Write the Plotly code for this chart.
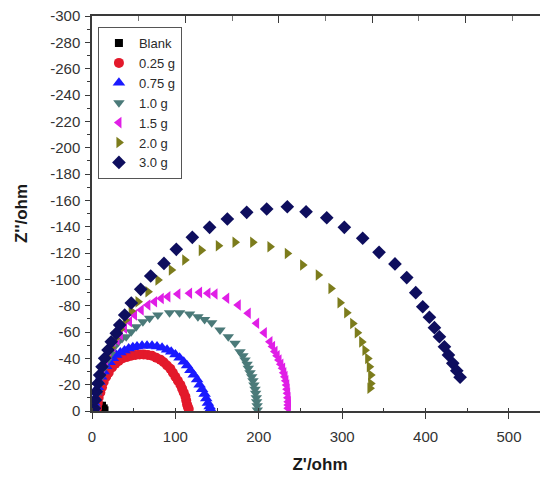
import plotly.graph_objects as go

# ---- data (Z' in ohm, Z'' in ohm) ----
blank_x = [4, 6, 9, 12, 14, 15]
blank_y = [-1, -3, -4, -4, -2, -0.5]

g025_x = [6, 7, 8, 10, 12, 14, 17, 20, 24, 28, 32, 37, 42, 47, 52, 57, 62, 67, 72, 77,
          82, 86, 90, 94, 97, 100, 103, 106, 108, 110, 112, 113, 114, 115, 116]
g025_y = [-2, -6, -10, -14, -18, -22, -26, -29, -33, -36, -38, -40, -41, -42, -42.5, -43,
          -43, -42.5, -42, -40.5, -39, -37, -34.5, -32, -29, -26, -23, -20, -17, -14,
          -11, -8, -5, -3, -1.5]

g075_x = [2, 3, 4, 5, 7, 9, 11, 14, 17, 21, 25, 29, 34, 39, 44, 49, 54, 60, 66, 72, 78,
          84, 90, 95, 100, 105, 110, 114, 118, 122, 126, 129, 132, 135, 137, 139, 141, 142]
g075_y = [-2, -6, -10, -14, -18, -22, -26, -30, -34, -37, -40, -42.5, -44.5, -46, -47.5,
          -48.5, -49, -49.5, -49.5, -49.5, -49, -48, -46.5, -45, -43, -40.5, -37.5, -34.5,
          -31, -27.5, -24, -20, -16.5, -13, -9.5, -6, -3.5, -1.5]

g10_x = [3, 4, 6, 8, 11, 14, 18, 22, 26, 31, 36, 41, 47, 53, 61, 69, 79, 93, 105, 117,
         127, 135, 143.5, 153.5, 163.4, 171.5, 177.5, 181, 183.5, 186, 187.4, 189.5, 191.5,
         193, 194.2, 195.5, 196.2, 197, 197.4, 198, 198.2]
g10_y = [-2, -8, -14, -20, -26, -32, -38, -43, -48, -52, -55, -56.4, -60.2, -64, -67.8,
         -70.4, -72.9, -74.6, -74.6, -73.7, -71.6, -69.5, -67, -61.5, -56.4, -51.4, -45,
         -42, -38.7, -35.5, -32.4, -29, -26, -23, -19.7, -16.5, -13.4, -10, -7.1, -4, -0.8]

g15_x = [3, 4, 6, 9, 12, 16, 20, 25, 30, 34, 39, 45, 51, 59, 67, 75, 83, 91, 103, 117,
         129, 139, 147.5, 161.5, 175.4, 187.4, 197.4, 206.6, 213.4, 216.5, 219.4, 222,
         224.2, 226.5, 228.6, 230, 231.4, 232.5, 233.5, 234, 234.6, 235, 235.4, 235.4, 235.4]
g15_y = [-2, -9, -16, -23, -30, -37, -43, -49, -54, -58, -62.8, -67.8, -72.9, -76.7, -80.5,
         -83, -85.5, -86.8, -88.8, -89.4, -90.1, -89.4, -88.8, -85.6, -80.5, -74.2, -66.6,
         -59.5, -52.6, -49, -45.1, -42, -38.7, -35.5, -32.4, -29, -26.1, -23, -19.7, -16.5,
         -13.4, -10, -7.1, -4.5, -2]

g20_x = [3, 4, 6, 8, 11, 14, 18, 23, 28, 34, 40, 47, 55.2, 67.1, 79.1, 95.1, 111.2, 131,
         151.5, 171.5, 192.7, 213.4, 234.2, 252.6, 271.3, 286.5, 297.4, 305.4, 312.6, 318.1,
         323.4, 327.3, 330.6, 332.5, 334.2, 334.2, 333.3]
g20_y = [-2, -7, -13, -20, -27, -34, -41, -48, -55, -62, -69, -76, -83, -90.6, -99.5, -107.1,
         -114.7, -122, -125.5, -128.1, -128.1, -124.8, -119.7, -110.9, -103.3, -93.1, -82.2,
         -74.6, -66.5, -59.4, -52.5, -46.2, -39.9, -33.6, -27.3, -20.9, -17.2]

g30_x = [3, 4, 5.2, 7.2, 9.2, 12, 15.2, 19.2, 23.1, 29.1, 33.2, 39.2, 47.1, 58.4, 70.4,
         86.3, 101.1, 120.3, 141, 162.3, 185.5, 209.5, 234.2, 256.7, 281.5, 302.6, 324.6,
         344.2, 363.3, 377.4, 388.2, 396.6, 404.6, 410.6, 416.6, 422.6, 427.4, 432.6, 437.4,
         441.4]
g30_y = [-2, -8.4, -14.7, -21, -27.3, -33.6, -40, -46.3, -52.6, -59, -65.3, -72.9, -82,
         -92.4, -102.5, -112.1, -122.8, -131.9, -139.5, -145.8, -150.9, -153.4, -155.1,
         -151.3, -146.8, -139.5, -131.2, -120.5, -111.7, -101.3, -89.9, -79.2, -71.2, -63.3,
         -56.4, -48.8, -42.5, -36.2, -30.6, -25.6]

names = ["Blank", "0.25 g", "0.75 g", "1.0 g", "1.5 g", "2.0 g", "3.0 g"]
xs = [blank_x, g025_x, g075_x, g10_x, g15_x, g20_x, g30_x]
ys = [blank_y, g025_y, g075_y, g10_y, g15_y, g20_y, g30_y]
colors = ["#000000", "#e3192b", "#1a1aff", "#4b7a79", "#e01ee6", "#7c7c1c", "#0e0e5e"]
symbols = ["square", "circle", "triangle-up", "triangle-down", "triangle-left",
           "triangle-right", "diamond"]
sizes = [8, 10, 11, 10, 10, 10, 10.5]

y_tickvals = [0, -20, -40, -60, -80, -100, -120, -140, -160, -180, -200, -220, -240,
              -260, -280, -300]
y_ticktext = ["0", "-20", "-40", "-60", "-80", "-100", "-120", "-140", "-160", "-180",
              "-200", "-220", "-240", "-260", "-280", "-300"]
x_tickvals = [0, 100, 200, 300, 400, 500]
x_ticktext = ["0", "100", "200", "300", "400", "500"]

x_range_max = 546.8
top_range_max = 488.2

fig = go.Figure()
for n, x, y, c, s, sz in zip(names, xs, ys, colors, symbols, sizes):
    fig.add_trace(go.Scatter(x=x, y=y, mode="markers", name=n,
                             marker=dict(color=c, symbol=s, size=sz, line=dict(width=0))))

# empty trace so that the top (mirror-style) axis is drawn
fig.add_trace(go.Scatter(x=[None], y=[None], xaxis="x2", yaxis="y", mode="markers",
                         showlegend=False, hoverinfo="skip"))

font_family = "Liberation Sans, Arial, sans-serif"
axis_col = "#3a3a3a"
tick_font = dict(size=15, color="#333333")

fig.update_layout(
    width=540, height=469,
    margin=dict(l=84, r=0, t=8, b=66),
    plot_bgcolor="white", paper_bgcolor="white",
    font=dict(family=font_family, color="#2a2a2a", size=13),
    showlegend=True,
    legend=dict(x=0.013, y=0.972, xanchor="left", yanchor="top",
                bordercolor="#555555", borderwidth=1, bgcolor="white",
                font=dict(size=13, color="#2a2a2a"), tracegroupgap=0),
    xaxis=dict(range=[0, x_range_max], showline=True, linecolor=axis_col, linewidth=1.5,
               showgrid=False, zeroline=False, ticks="outside", ticklen=6, tickwidth=1,
               tickcolor=axis_col, tickmode="array", tickvals=x_tickvals,
               ticktext=x_ticktext, ticklabelstandoff=5, ticklabeloverflow="allow",
               minor=dict(ticks="inside", ticklen=3, tickcolor=axis_col, dtick=50,
                          tick0=0, showgrid=False),
               title=dict(text="<b>Z'/ohm</b>", font=dict(size=17, color="#1a1a1a"),
                          standoff=14),
               tickfont=tick_font),
    xaxis2=dict(range=[0, top_range_max], overlaying="x", side="top", showline=True,
                linecolor=axis_col, linewidth=1.5, showgrid=False, zeroline=False,
                ticks="inside", ticklen=7, tickcolor=axis_col, tick0=0, dtick=100,
                showticklabels=False,
                minor=dict(ticks="inside", ticklen=5, tickcolor="#777777", dtick=50)),
    yaxis=dict(range=[0, -300], showline=True, linecolor=axis_col, linewidth=1.5,
               showgrid=False, zeroline=False, ticks="outside", ticklen=5,
               tickcolor=axis_col, tickmode="array", tickvals=y_tickvals,
               ticktext=y_ticktext, ticklabelstandoff=2, ticklabeloverflow="allow",
               minor=dict(ticks="outside", ticklen=3, tickcolor=axis_col, dtick=10,
                          tick0=0, showgrid=False),
               title=dict(text="<b>Z''/ohm</b>", font=dict(size=17, color="#1a1a1a"),
                          standoff=18),
               tickfont=tick_font),
)

fig.write_html("out.html")
